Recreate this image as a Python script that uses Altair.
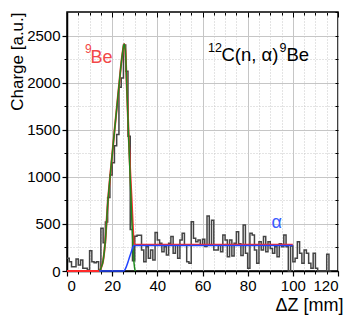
import altair as alt
import pandas as pd

# ---------------- data ----------------
bin_left = list(range(0, 117))  # 1 mm bins
counts = [135, 99, 46, 46, 127, 64, 117, 28, 28, 11,
          216, 99, 88, 99, 0, 453, 300, 520, 780, 1020,
          1150, 1330, 1450, 1950, 2050, 2400, 2120, 1430, 440, 110,
          370, 380, 380, 223, 99, 258, 135, 223, 117, 410,
          329, 294, 205, 258, 170, 294, 365, 188, 276, 135,
          330, 400, 276, 99, 81, 524, 347, 311, 329, 276,
          336, 260, 584, 276, 540, 223, 223, 276, 205, 382,
          330, 152, 330, 160, 294, 418, 290, 165, 488, 188,
          28, 400, 382, 223, 81, 311, 223, 365, 205, 311,
          240, 188, 258, 152, 290, 258, 382, 258, 0, 265,
          99, 135, 311, 188, 81, 223, 188, 81, 28, 188,
          28, 0, 0, 0, 0, 177, 0]

red_x = [0, 14.3, 15, 16, 17, 18, 19, 20, 21, 22, 23, 24, 25, 25.3, 25.8, 26.5, 27.2, 28, 28.7, 29.2, 29.6, 30, 100]
red_y = [0, 0, 30, 110, 330, 700, 980, 1230, 1480, 1720, 1960, 2200, 2380, 2410, 2350, 1950, 1500, 1050, 720, 450, 300, 280, 280]

green_x = [14.3, 15, 16, 17, 18, 19, 20, 21, 22, 23, 24, 25, 25.3, 25.8, 26.5, 27.2, 28, 28.7, 29.2, 29.7, 30.2]
green_y = [0, 30, 110, 330, 700, 980, 1230, 1480, 1720, 1960, 2200, 2380, 2410, 2350, 1950, 1480, 980, 540, 280, 80, 0]

blue_x = [14.3, 25, 25.8, 26.5, 27.2, 28, 28.7, 29.3, 29.7, 100]
blue_y = [0, 0, 20, 60, 110, 170, 220, 258, 272, 272]

x_major = [0, 20, 40, 60, 80, 100, 120]
x_minor = [v for v in range(0, 121, 5) if v % 20 != 0]
x_all = list(range(0, 121, 5))
y_major = [0, 500, 1000, 1500, 2000, 2500]
y_minor = [250, 750, 1250, 1750, 2250]
y_all = list(range(0, 2751, 250))

# label pieces: (text, is_superscript)
be_label = [("9", True), ("Be", False)]
rx_label = [("12", True), ("C(n, \u03b1)", False), ("9", True), ("Be", False)]
alpha_label = "\u03b1"
x_title = "\u0394Z [mm]"
y_title = "Charge [a.u.]"

# ---------------- chart ----------------
FONT = "Liberation Sans"
xs = alt.Scale(domain=[0, 120], nice=False, zero=False)
ys = alt.Scale(domain=[0, 2750], nice=False, zero=False)

hist_df = pd.DataFrame({"x": bin_left + [bin_left[-1] + 1], "y": counts + [counts[-1]]})
red_df = pd.DataFrame({"x": red_x, "y": red_y})
green_df = pd.DataFrame({"x": green_x, "y": green_y})
blue_df = pd.DataFrame({"x": blue_x, "y": blue_y})

hist = alt.Chart(hist_df).mark_line(interpolate="step-after", color="#444444", strokeWidth=1.5).encode(
    x=alt.X("x:Q", scale=xs, axis=alt.Axis(
        orient="bottom", values=x_major, title=x_title, tickSize=5, tickColor="black", tickWidth=1.2,
        grid=True, gridColor="#c6c6c6", gridWidth=1, domain=True, domainColor="black", domainWidth=1.5,
        labelFontSize=15, labelColor="black", labelPadding=2, labelFont=FONT, format="d",
        titleFont=FONT, titleFontSize=18, titleFontWeight="normal", titleColor="black",
        titleX=276, titleY=39, titleAlign="right", titleBaseline="alphabetic")),
    y=alt.Y("y:Q", scale=ys, axis=alt.Axis(
        orient="left", values=y_major, title=y_title, tickSize=5, tickColor="black", tickWidth=1.2,
        grid=True, gridColor="#c6c6c6", gridWidth=1, domain=True, domainColor="black", domainWidth=1.5,
        labelFontSize=15, labelColor="black", labelPadding=2, labelFont=FONT, format="d",
        titleFont=FONT, titleFontSize=17, titleFontWeight="normal", titleColor="black",
        titleAngle=270, titleX=-45, titleY=0, titleAlign="right", titleBaseline="alphabetic")),
)

red = alt.Chart(red_df).mark_line(interpolate="monotone", color="#ff2a2a", strokeWidth=2).encode(
    x=alt.X("x:Q", scale=xs, axis=alt.Axis(
        orient="bottom", values=x_minor, title=None, labels=False, tickSize=3, tickColor="black",
        grid=True, gridColor="#c8c8c8", gridDash=[1, 2], domain=False)),
    y=alt.Y("y:Q", scale=ys, axis=alt.Axis(
        orient="left", values=y_minor, title=None, labels=False, tickSize=3, tickColor="black",
        grid=True, gridColor="#c8c8c8", gridDash=[1, 2], domain=False)),
)

green = alt.Chart(green_df).mark_line(interpolate="monotone", color="#1f8a1f", strokeWidth=1.5).encode(
    x=alt.X("x:Q", scale=xs, axis=alt.Axis(
        orient="top", values=x_all, title=None, labels=False, tickSize=3, tickColor="black",
        offset=-3, grid=False, domain=False)),
    y=alt.Y("y:Q", scale=ys, axis=alt.Axis(
        orient="right", values=y_all, title=None, labels=False, tickSize=3, tickColor="black",
        offset=-3, grid=False, domain=False)),
)

blue = alt.Chart(blue_df).mark_line(interpolate="monotone", color="#2244ff", strokeWidth=1.5).encode(
    x=alt.X("x:Q", scale=xs, axis=alt.Axis(
        orient="top", values=x_major, title=None, labels=False, tickSize=5, tickColor="black",
        offset=-5, grid=False, domain=False)),
    y=alt.Y("y:Q", scale=ys, axis=None),
)


def piece(text, px, py, size, color):
    return alt.Chart(pd.DataFrame({"t": [text]})).mark_text(
        align="left", baseline="alphabetic", font=FONT, fontSize=size, color=color).encode(
        text="t:N", x=alt.value(px), y=alt.value(py))


RED_TXT = "#f24848"
texts = [
    piece(be_label[0][0], 18, 41, 12, RED_TXT),
    piece(be_label[1][0], 23.5, 51, 18, RED_TXT),
    piece(rx_label[0][0], 141, 40, 12.5, "black"),
    piece(rx_label[1][0], 154.5, 49, 18.5, "black"),
    piece(rx_label[2][0], 212.5, 40, 12.5, "black"),
    piece(rx_label[3][0], 219.5, 49, 18.5, "black"),
    piece(alpha_label, 204.5, 216, 18, "#3a5bff"),
]

chart = alt.layer(hist, red, green, blue, *texts).resolve_axis(
    x="independent", y="independent"
).properties(
    width=271, height=259,
    autosize=alt.AutoSizeParams(type="none"),
    padding={"left": 59, "top": 4, "right": 12, "bottom": 44},
).configure_view(stroke="black", strokeWidth=1.5)

chart.save("out.html", embed_options={"renderer": "svg", "actions": False})
